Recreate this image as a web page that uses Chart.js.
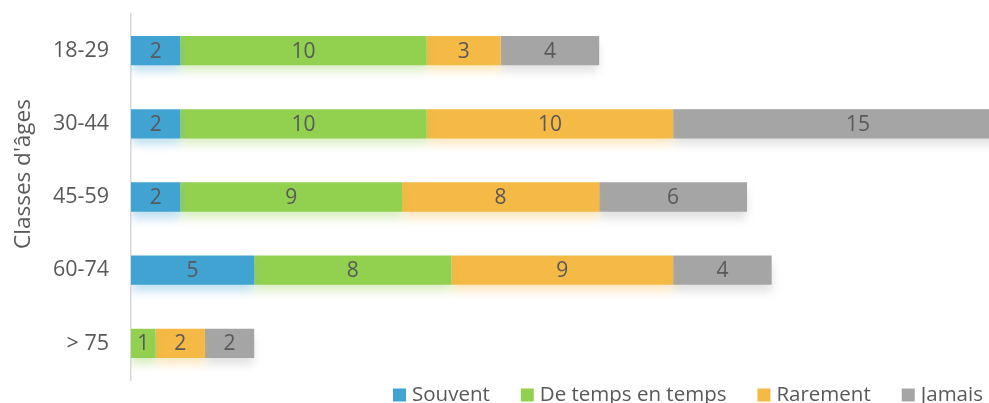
<!DOCTYPE html>
<html>
<head>
<meta charset="utf-8">
<script src="https://cdn.jsdelivr.net/npm/chart.js@4.4.1/dist/chart.umd.min.js"></script>
<style>
  html, body { margin: 0; padding: 0; background: #fff; }
  #wrap { width: 989px; height: 403px; }
</style>
</head>
<body>
<div id="wrap"><canvas id="barChart" width="989" height="403"></canvas></div>
<script>
const categories = ["18-29", "30-44", "45-59", "60-74", "> 75"];
const souvent = [2, 2, 2, 5, 0];
const deTempsEnTemps = [10, 10, 9, 8, 1];
const rarement = [3, 10, 8, 9, 2];
const jamais = [4, 15, 6, 4, 2];
const seriesNames = ["Souvent", "De temps en temps", "Rarement", "Jamais"];
const axisTitle = "Classes d'âges";

const colors = ["#41A3D1", "#92D050", "#F5B945", "#A5A5A5"];
const textColor = "#595959";
const fontFamily = "'Open Sans', 'Noto Sans', sans-serif";

// soft coloured shadow under each bar segment
const barShadow = {
    id: "barShadow",
    beforeDatasetDraw(chart, args) {
        const ctx = chart.ctx;
        ctx.save();
        ctx.shadowColor = colors[args.index] + "55";
        ctx.shadowBlur = 9;
        ctx.shadowOffsetY = 7;
    },
    afterDatasetDraw(chart) {
        chart.ctx.restore();
    }
};

// value labels in the middle of every segment
const valueLabels = {
    id: "valueLabels",
    afterDatasetsDraw(chart) {
        const ctx = chart.ctx;
        ctx.save();
        ctx.font = "21px " + fontFamily;
        ctx.fillStyle = textColor;
        ctx.textAlign = "center";
        ctx.textBaseline = "middle";
        chart.data.datasets.forEach((ds, i) => {
            chart.getDatasetMeta(i).data.forEach((bar, j) => {
                if (!ds.data[j]) return;
                ctx.fillText(ds.data[j], (bar.x + bar.base) / 2, bar.y + 1);
            });
        });
        ctx.restore();
    }
};

// rotated axis title + legend at the bottom right
const extras = {
    id: "extras",
    afterDraw(chart) {
        const ctx = chart.ctx;
        ctx.save();
        ctx.fillStyle = textColor;
        ctx.font = "22.5px " + fontFamily;
        ctx.translate(24, 174);
        ctx.rotate(-Math.PI / 2);
        ctx.textAlign = "center";
        ctx.textBaseline = "middle";
        ctx.fillText(axisTitle, 0, 0);
        ctx.restore();

        ctx.save();
        ctx.font = "20.5px " + fontFamily;
        ctx.textBaseline = "middle";
        const box = 13, gap = 6, itemGap = 31, y = 395;
        let x = 393;
        seriesNames.forEach((n, i) => {
            ctx.fillStyle = colors[i];
            ctx.fillRect(x, y - box / 2, box, box);
            ctx.fillStyle = textColor;
            ctx.fillText(n, x + box + gap, y);
            x += box + gap + ctx.measureText(n).width + itemGap;
        });
        ctx.restore();
    }
};

const seriesValues = [souvent, deTempsEnTemps, rarement, jamais];

new Chart(document.getElementById("barChart"), {
    type: "bar",
    data: {
        labels: categories,
        datasets: seriesValues.map((vals, i) => ({
            label: seriesNames[i],
            data: vals,
            backgroundColor: colors[i],
            borderWidth: 0,
            categoryPercentage: 0.8,
            barPercentage: 0.5
        }))
    },
    options: {
        indexAxis: "y",
        responsive: false,
        animation: false,
        layout: { padding: { top: 14, right: 0, bottom: 23, left: 0 } },
        scales: {
            x: {
                stacked: true,
                min: 0,
                max: 34.82,
                display: false
            },
            y: {
                stacked: true,
                grid: { display: false, drawTicks: false },
                border: { display: true, color: "#D9D9D9", width: 1.5 },
                ticks: {
                    color: textColor,
                    padding: 22,
                    font: { size: 21.5, family: fontFamily }
                },
                afterFit(axis) {
                    axis.width = 131;
                    axis.paddingTop = 0;
                    axis.paddingBottom = 0;
                }
            }
        },
        plugins: {
            legend: { display: false },
            tooltip: { enabled: false }
        }
    },
    plugins: [barShadow, valueLabels, extras]
});
</script>
</body>
</html>
